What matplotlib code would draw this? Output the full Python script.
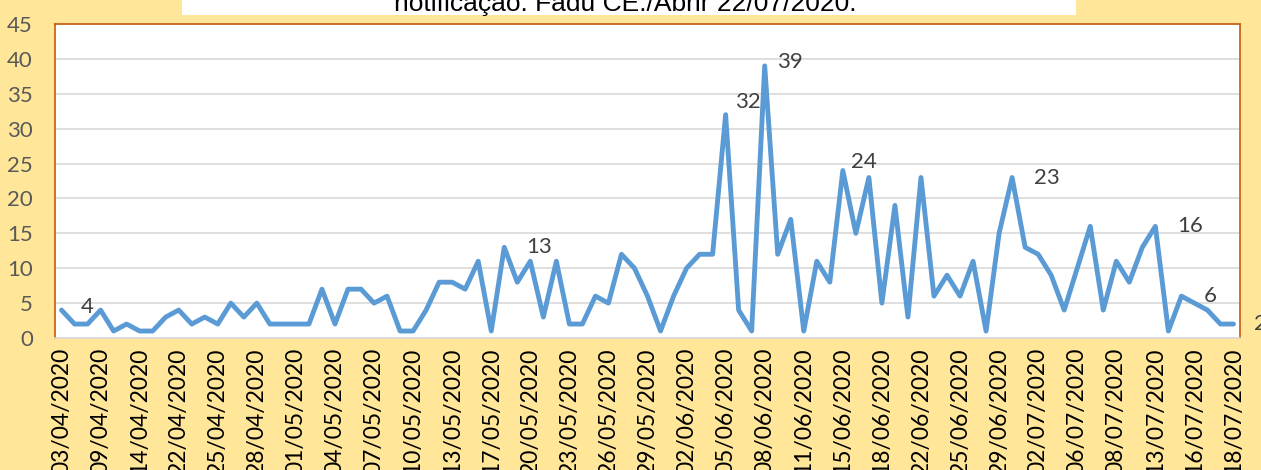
import matplotlib
matplotlib.use('Agg')
import matplotlib.pyplot as plt
from matplotlib.patches import Rectangle

# daily notified cases
cases = [4, 2, 2, 4, 1, 2, 1, 1, 3, 4, 2, 3, 2, 5, 3, 5, 2, 2, 2, 2, 7, 2, 7, 7,
         5, 6, 1, 1, 4, 8, 8, 7, 11, 1, 13, 8, 11, 3, 11, 2, 2, 6, 5, 12, 10, 6,
         1, 6, 10, 12, 12, 32, 4, 1, 39, 12, 17, 1, 11, 8, 24, 15, 23, 5, 19, 3, 23, 6, 9,
         6, 11, 1, 15, 23, 13, 12, 9, 4, 10, 16, 4, 11, 8, 13, 16, 1, 6, 5, 4, 2, 2]

date_labels = ['03/04/2020', '09/04/2020', '14/04/2020', '22/04/2020', '25/04/2020',
               '28/04/2020', '01/05/2020', '04/05/2020', '07/05/2020', '10/05/2020',
               '13/05/2020', '17/05/2020', '20/05/2020', '23/05/2020', '26/05/2020',
               '29/05/2020', '02/06/2020', '05/06/2020', '08/06/2020', '11/06/2020',
               '15/06/2020', '18/06/2020', '22/06/2020', '25/06/2020', '29/06/2020',
               '02/07/2020', '06/07/2020', '08/07/2020', '13/07/2020', '16/07/2020',
               '18/07/2020']

labeled_idx = [0, 34, 51, 54, 60, 73, 84, 86, 90]

title = 'notificação. Fadu CE./Abrir 22/07/2020.'

bg = '#FFE699'
border = '#C55A11'
line_color = '#5B9BD5'
W, H = 1261, 470

fig = plt.figure(figsize=(W / 100, H / 100), dpi=100, facecolor=bg)
ax = fig.add_axes([55 / W, 1 - 338 / H, (1240 - 55) / W, (338 - 24) / H])
ax.set_facecolor('white')

x = list(range(len(cases)))
ax.plot(x, cases, color=line_color, lw=3.5, solid_joinstyle='round',
        solid_capstyle='round', zorder=3, clip_on=False)

ax.set_xlim(-0.5, len(cases) - 0.5)
ax.set_ylim(0, 45)
ax.set_yticks(range(0, 46, 5))
ax.set_xticks(x[::3])
ax.set_xticklabels(date_labels, rotation=90, fontsize=16.5, family='Lato',
                   color='#000000', va='top')
ax.tick_params(axis='x', length=0, pad=7)
ax.tick_params(axis='y', length=0, pad=16, labelsize=16, labelcolor='#595959')
for lab in ax.get_yticklabels():
    lab.set_family('Lato')

ax.grid(axis='y', color='#D9D9D9', lw=1.2, zorder=0)
ax.set_axisbelow(True)

for side in ['left', 'top', 'right']:
    ax.spines[side].set_color(border)
    ax.spines[side].set_linewidth(1.2)
ax.spines['bottom'].set_color('#D9D9D9')
ax.spines['bottom'].set_linewidth(1.2)

# data labels, shifted like the original
offsets = {0: (14, 2), 34: (16, 0), 51: (7, 9), 54: (9, 3), 60: (6, 6),
           73: (16, 0), 84: (16, 0), 86: (16, 0), 90: (15, 0)}
for i in labeled_idx:
    dx, dy = offsets[i]
    ax.annotate(str(cases[i]), (i, cases[i]), xytext=(dx, dy),
                textcoords='offset points', ha='left', va='center',
                fontsize=16, family='Lato', color='#404040',
                annotation_clip=False)

# top title box (cut off by the figure edge)
fig.patches.append(Rectangle((182 / W, 1 - 15 / H), (1076 - 182) / W, 15 / H,
                             transform=fig.transFigure, facecolor='white',
                             edgecolor='none', zorder=1))
fig.text(625 / W, 1 - 11 / H, title, ha='center', va='baseline',
         fontsize=19, family='Liberation Sans', color='black', zorder=2)

fig.savefig('out.png', dpi=100, facecolor=bg)
